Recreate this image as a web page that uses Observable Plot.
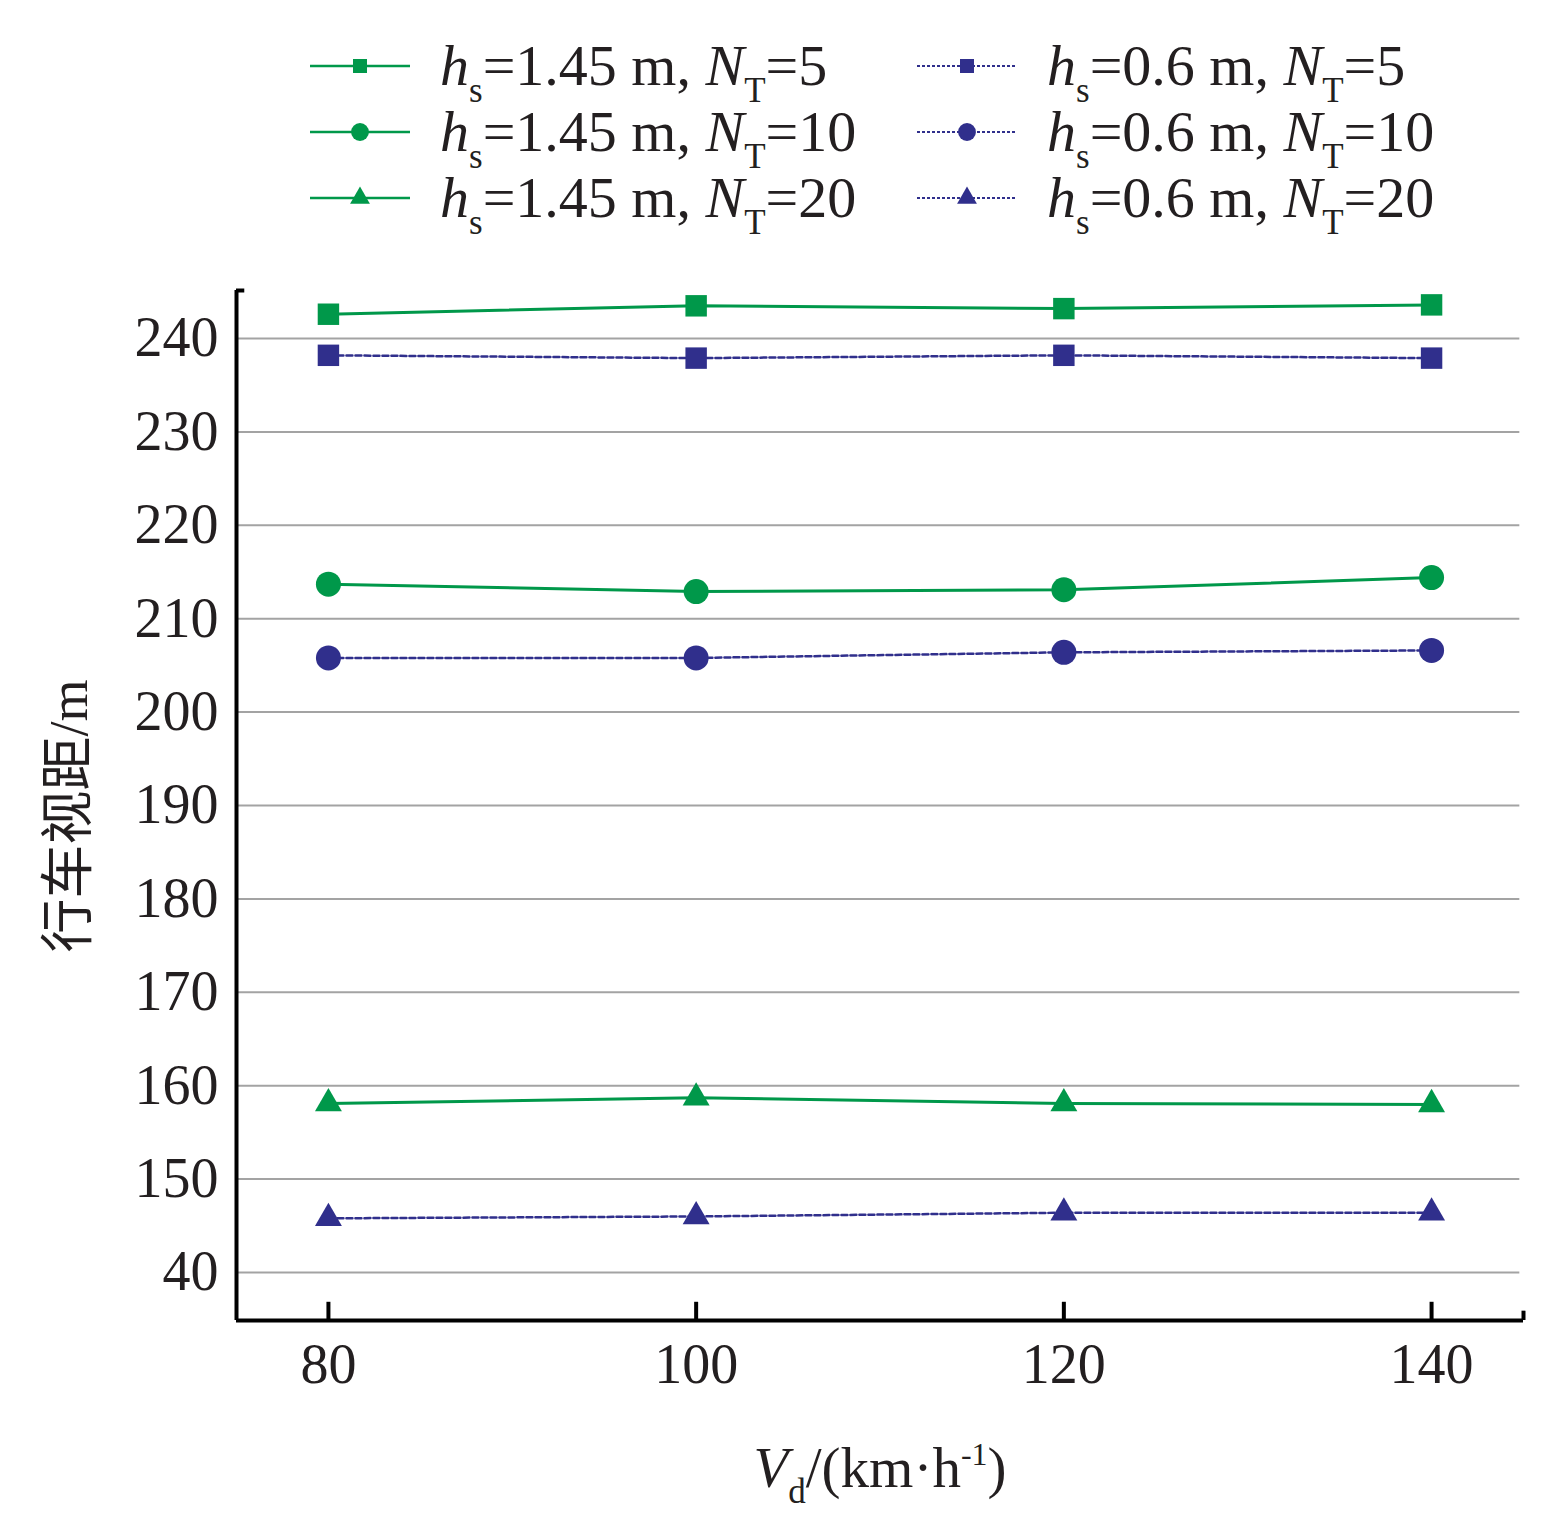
<!DOCTYPE html>
<html>
<head>
<meta charset="utf-8">
<script src="https://cdn.jsdelivr.net/npm/d3@7"></script>
<script src="https://cdn.jsdelivr.net/npm/@observablehq/plot@0.6"></script>
<style>
  html, body { margin: 0; padding: 0; background: #fff; }
  #wrap { position: relative; width: 1559px; height: 1532px; }
  #wrap > svg { position: absolute; left: 0; top: 0; }
</style>
</head>
<body>
<div id="wrap"></div>
<script>
// ---- data ----
const speeds = [80, 100, 120, 140];                 // V_d (km/h)
const hs145_NT5  = [242.6, 243.5, 243.2, 243.6];
const hs145_NT10 = [213.7, 212.9, 213.1, 214.4];
const hs145_NT20 = [158.1, 158.7, 158.1, 158.0];
const hs06_NT5   = [238.2, 237.9, 238.2, 237.9];
const hs06_NT10  = [205.8, 205.8, 206.4, 206.6];
const hs06_NT20  = [145.8, 146.0, 146.4, 146.4];
const yTicks      = [140, 150, 160, 170, 180, 190, 200, 210, 220, 230, 240];
const yTickLabels = ["40", "150", "160", "170", "180", "190", "200", "210", "220", "230", "240"];
const xTickLabels = ["80", "100", "120", "140"];
const legendHs = ["1.45", "1.45", "1.45", "0.6", "0.6", "0.6"];
const legendNT = ["5", "10", "20", "5", "10", "20"];

const GREEN = "#00984a", BLUE = "#302f8c";
const series = [
  {key: "g5",  values: hs145_NT5,  color: GREEN, symbol: "square",   dashed: false},
  {key: "g10", values: hs145_NT10, color: GREEN, symbol: "circle",   dashed: false},
  {key: "g20", values: hs145_NT20, color: GREEN, symbol: "triangle", dashed: false},
  {key: "b5",  values: hs06_NT5,   color: BLUE,  symbol: "square",   dashed: true},
  {key: "b10", values: hs06_NT10,  color: BLUE,  symbol: "circle",   dashed: true},
  {key: "b20", values: hs06_NT20,  color: BLUE,  symbol: "triangle", dashed: true}
];
const rows = series.flatMap(s => speeds.map((v, i) => ({x: v, y: s.values[i], key: s.key, color: s.color, symbol: s.symbol, dashed: s.dashed})));

const X0 = 75, X1 = 145, Y0 = 134.86, Y1 = 245.14;
const symR = {square: 12.1, circle: 12.5, triangle: 10};

const plot = Plot.plot({
  width: 1559, height: 1532,
  marginLeft: 236, marginRight: 36, marginTop: 290, marginBottom: 212,
  x: {domain: [X0, X1]},
  y: {domain: [Y0, Y1]},
  style: {fontFamily: "'Liberation Serif', 'Times New Roman', serif", fontSize: "56px", color: "#231f20", background: "#fff"},
  marks: [
    Plot.ruleY(yTicks, {x1: X0, x2: 144.8, stroke: "#a3a3a3", strokeWidth: 2}),
    Plot.line(rows.filter(d => !d.dashed), {x: "x", y: "y", z: "key", stroke: GREEN, strokeWidth: 3}),
    Plot.line(rows.filter(d => d.dashed), {x: "x", y: "y", z: "key", stroke: BLUE, strokeWidth: 2.5, strokeDasharray: "6,3"}),
    ...["square", "circle", "triangle"].map(sym =>
      Plot.dot(rows.filter(d => d.symbol === sym), {x: "x", y: "y", fill: "color", symbol: () => sym, r: symR[sym]})
    ),
    Plot.ruleX([X0], {y1: Y0, y2: Y1, stroke: "#000", strokeWidth: 4}),
    Plot.ruleY([Y0], {x1: X0, x2: X1, stroke: "#000", strokeWidth: 4}),
    Plot.ruleX(speeds, {y1: Y0, y2: Y0 + 1.95, stroke: "#000", strokeWidth: 4}),
    Plot.ruleX([X1], {y1: Y0, y2: Y0 + 1.0, stroke: "#000", strokeWidth: 4}),
    Plot.ruleY([Y1], {x1: X0, x2: X0 + 0.45, stroke: "#000", strokeWidth: 4}),
    Plot.axisY({ticks: yTicks, tickFormat: d => yTickLabels[yTicks.indexOf(d)], tickSize: 0, tickPadding: 18, label: null, fontSize: 56}),
    Plot.axisX({ticks: speeds, tickFormat: d => xTickLabels[speeds.indexOf(d)], tickSize: 0, tickPadding: 23, label: null, fontSize: 56})
  ]
});
document.getElementById("wrap").appendChild(plot);

// ---- overlay: legend and axis titles ----
const ov = d3.select("#wrap").append("svg")
  .attr("width", 1559).attr("height", 1532)
  .style("font-family", "'Liberation Serif', 'Times New Roman', serif")
  .style("pointer-events", "none");

const symbolPath = (sym, size) => d3.symbol(
  sym === "square" ? d3.symbolSquare : sym === "circle" ? d3.symbolCircle : d3.symbolTriangle, size)();

const legSize = {square: 196, circle: 250, triangle: 170};
series.forEach((s, i) => {
  const col = i < 3 ? 0 : 1;
  const row = i % 3;
  const lx = col === 0 ? 310 : 917;
  const cy = 66 + row * 66;
  const g = ov.append("g");
  g.append("line").attr("x1", lx).attr("x2", lx + 100).attr("y1", cy).attr("y2", cy)
    .attr("stroke", s.color).attr("stroke-width", s.dashed ? 1.8 : 2.5)
    .attr("stroke-dasharray", s.dashed ? "3,2" : null);
  g.append("path").attr("d", symbolPath(s.symbol, legSize[s.symbol]))
    .attr("transform", `translate(${lx + 50},${cy})`).attr("fill", s.color);
  const t = g.append("text").attr("x", lx + 130).attr("y", cy + 19).attr("font-size", 58).attr("fill", "#231f20");
  t.append("tspan").attr("font-style", "italic").text("h");
  t.append("tspan").attr("font-size", 35).attr("dy", 17).text("s");
  t.append("tspan").attr("dy", -17).text(`=${legendHs[i]} m, `);
  t.append("tspan").attr("font-style", "italic").text("N");
  t.append("tspan").attr("font-size", 35).attr("dy", 17).text("T");
  t.append("tspan").attr("dy", -17).text(`=${legendNT[i]}`);
});

// x title
const xt = ov.append("text").attr("x", 880).attr("y", 1487).attr("text-anchor", "middle")
  .attr("font-size", 57).attr("fill", "#231f20");
xt.append("tspan").attr("font-style", "italic").text("V");
xt.append("tspan").attr("font-size", 35).attr("dy", 16).text("d");
xt.append("tspan").attr("dy", -16).text("/(km·h");
xt.append("tspan").attr("font-size", 32).attr("dy", -22).text("-1");
xt.append("tspan").attr("dy", 22).text(")");

// y title
ov.append("text").attr("transform", "translate(87,816) rotate(-90)").attr("text-anchor", "middle")
  .attr("font-size", 54).attr("fill", "#231f20")
  .style("font-family", "'Liberation Serif', 'Noto Sans CJK SC', serif")
  .text("行车视距/m");
</script>
</body>
</html>
